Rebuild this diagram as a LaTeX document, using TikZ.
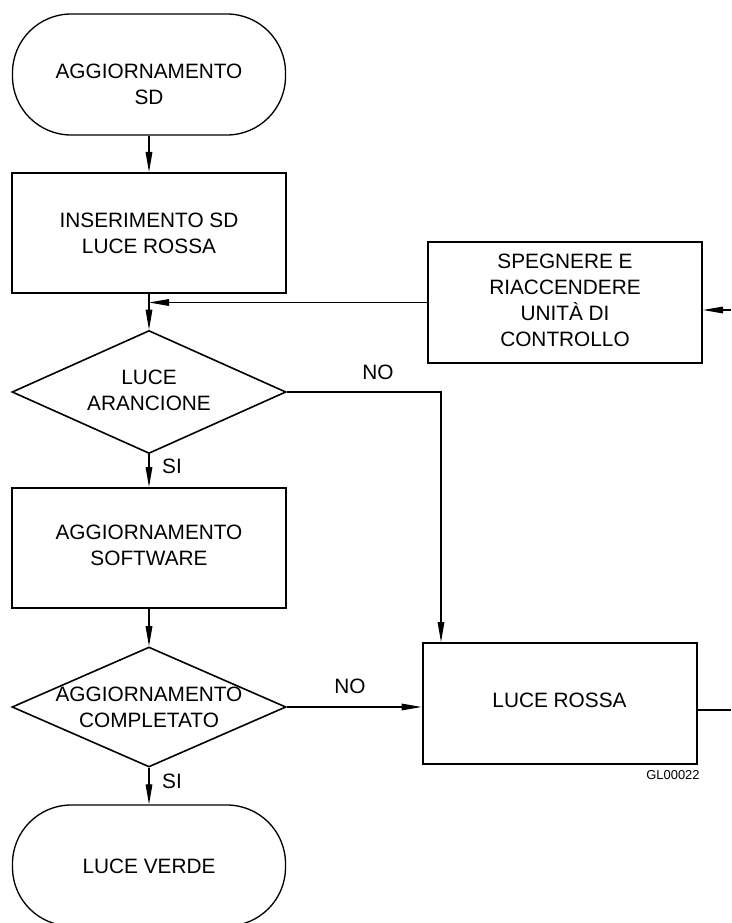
\documentclass[tikz,border=0pt]{standalone}
\usepackage{fontspec}
\setmainfont{Liberation Sans}
\usetikzlibrary{shapes.geometric,arrows.meta}
\begin{document}
\begin{tikzpicture}[x=0.75pt,y=-0.75pt,
  every node/.style={font=\fontsize{15.6}{19.5}\selectfont},
  term/.style={draw,line width=1pt,rectangle,rounded corners=44pt,minimum width=204.75pt,minimum height=90.75pt,inner sep=0pt},
  proc/.style={draw,line width=1.5pt,rectangle,minimum width=205.5pt,minimum height=90pt,inner sep=0pt},
  dec/.style={draw,line width=1.2pt,diamond,minimum width=205.5pt,inner sep=0pt},
  txt/.style={align=center,inner sep=0pt},
  con/.style={line width=0.8pt},
  arr/.style={line width=0.8pt,-{Triangle[length=15pt,width=5pt]}},
  small/.style={font=\fontsize{9.7}{11}\selectfont,inner sep=0pt}
]
\path[use as bounding box,clip] (0,0) rectangle (731,923);
% shapes
\node[term] (t1) at (149,74.5) {};
\node[txt] (t1t) at (149,84) {AGGIORNAMENTO\\SD};
\node[proc] (b1) at (149,233) {};
\node[txt] (b1t) at (149,233) {INSERIMENTO SD\\LUCE ROSSA};
\node[proc,minimum height=90.75pt] (sp) at (565,302.5) {};
\node[txt] (spt) at (565,300) {SPEGNERE E\\RIACCENDERE\\UNITÀ DI\\CONTROLLO};
\node[dec,minimum height=92.25pt] (d1) at (149,392) {};
\node[txt] (d1t) at (149,390) {LUCE\\ARANCIONE};
\node[proc] (b2) at (149,548) {};
\node[txt] (b2t) at (149,545) {AGGIORNAMENTO\\SOFTWARE};
\node[dec,minimum height=90pt] (d2) at (149,707) {};
\node[txt] (d2t) at (149,707) {AGGIORNAMENTO\\COMPLETATO};
\node[proc,minimum height=90.75pt] (lr) at (559.5,703.5) {};
\node[txt] (lrt) at (559.5,700) {LUCE ROSSA};
\node[term] (t2) at (149,865.5) {};
\node[txt] (t2t) at (149,866.5) {LUCE VERDE};
% labels
\node[txt] (no1) at (378,372) {NO};
\node[txt] (no2) at (350,686) {NO};
\node[txt] (si1) at (172,466) {SI};
\node[txt] (si2) at (172,781) {SI};
\node[small] (gl) at (673,775) {GL00022};
% connectors
\coordinate (k1) at (441,392);
\coordinate (rA) at (731,710);
\coordinate (rB) at (731,310);
\draw[arr] (t1.south) -- (b1.north);
\draw[arr] (b1.south) -- (d1.north);
\draw[arr] (sp.west) -- (sp.west -| b1.south);
\draw[arr] (d1.south) -- (b2.north);
\draw[arr] (b2.south) -- (d2.north);
\draw[arr] (d2.south) -- (t2.north);
\draw[arr] (d1.east) -- (k1) -- (k1 |- lr.north);
\draw[arr] (d2.east) -- (lr.west |- d2.east);
\draw[con] (lr.east |- rA) -- (rA);
\draw[arr] (rB) -- (sp.east |- rB);
\end{tikzpicture}
\end{document}
